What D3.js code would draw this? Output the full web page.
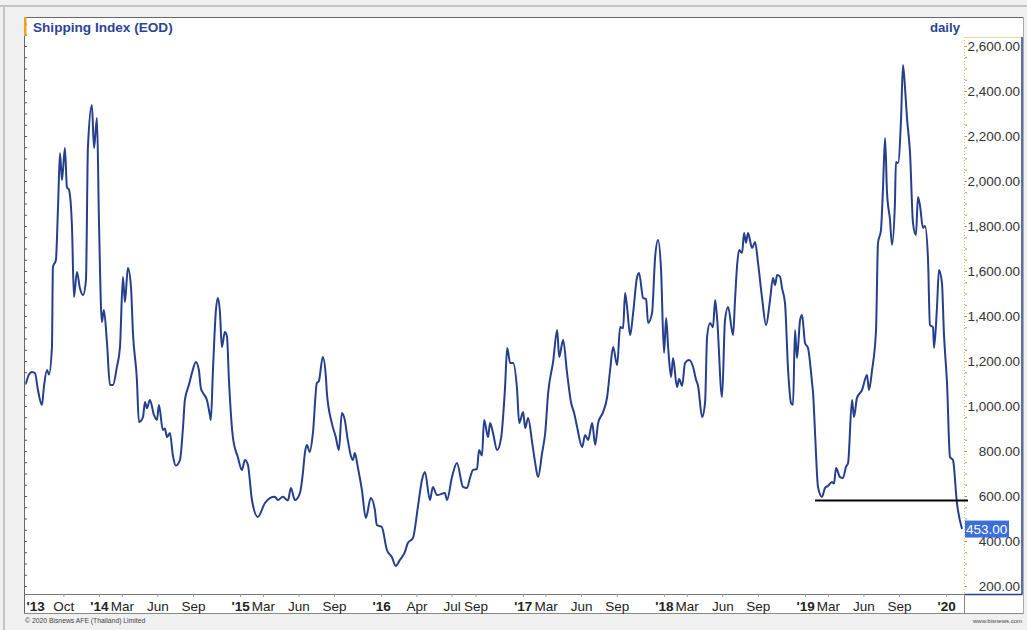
<!DOCTYPE html>
<html>
<head>
<meta charset="utf-8">
<script src="https://cdn.jsdelivr.net/npm/d3@7/dist/d3.min.js"></script>
<style>
body { margin: 0; background: #f0f0f0; }
svg { display: block; font-family: "Liberation Sans", Arial, sans-serif; }
</style>
</head>
<body>
<script>
// dates as decimal years
var years = [
  2013.483, 2013.504, 2013.525, 2013.547, 2013.568, 2013.596, 2013.610, 2013.632, 2013.646, 2013.667,
  2013.674, 2013.695, 2013.710, 2013.724, 2013.738, 2013.759, 2013.773, 2013.788, 2013.809, 2013.823,
  2013.844, 2013.865, 2013.887, 2013.908, 2013.922, 2013.950, 2013.965, 2013.986, 2014.000, 2014.021,
  2014.035, 2014.057, 2014.078, 2014.099, 2014.127, 2014.149, 2014.170, 2014.184, 2014.205, 2014.227,
  2014.241, 2014.269, 2014.283, 2014.312, 2014.326, 2014.340, 2014.361, 2014.390, 2014.411, 2014.425,
  2014.453, 2014.467, 2014.482, 2014.503, 2014.524, 2014.545, 2014.574, 2014.595, 2014.609, 2014.637,
  2014.659, 2014.687, 2014.708, 2014.722, 2014.737, 2014.765, 2014.786, 2014.793, 2014.807, 2014.829,
  2014.843, 2014.857, 2014.871, 2014.892, 2014.907, 2014.921, 2014.949, 2014.984, 2015.013, 2015.034,
  2015.055, 2015.084, 2015.126, 2015.176, 2015.211, 2015.246, 2015.268, 2015.303, 2015.339, 2015.360,
  2015.388, 2015.424, 2015.445, 2015.459, 2015.473, 2015.494, 2015.516, 2015.544, 2015.558, 2015.586,
  2015.608, 2015.615, 2015.650, 2015.678, 2015.700, 2015.721, 2015.742, 2015.763, 2015.799, 2015.813,
  2015.834, 2015.863, 2015.891, 2015.926, 2015.955, 2015.969, 2016.004, 2016.040, 2016.075, 2016.103,
  2016.132, 2016.167, 2016.188, 2016.224, 2016.259, 2016.288, 2016.309, 2016.344, 2016.365, 2016.394,
  2016.450, 2016.465, 2016.500, 2016.535, 2016.578, 2016.606, 2016.627, 2016.649, 2016.677, 2016.691,
  2016.712, 2016.727, 2016.755, 2016.769, 2016.790, 2016.819, 2016.847, 2016.875, 2016.890, 2016.911,
  2016.932, 2016.960, 2016.975, 2017.003, 2017.017, 2017.038, 2017.067, 2017.088, 2017.109, 2017.137,
  2017.159, 2017.180, 2017.215, 2017.244, 2017.258, 2017.286, 2017.314, 2017.343, 2017.364, 2017.385,
  2017.421, 2017.442, 2017.463, 2017.492, 2017.513, 2017.534, 2017.569, 2017.598, 2017.619, 2017.640,
  2017.669, 2017.690, 2017.711, 2017.725, 2017.739, 2017.761, 2017.782, 2017.810, 2017.824, 2017.853,
  2017.874, 2017.888, 2017.916, 2017.938, 2017.959, 2017.980, 2018.001, 2018.016, 2018.030, 2018.051,
  2018.065, 2018.093, 2018.108, 2018.129, 2018.150, 2018.178, 2018.207, 2018.228, 2018.242, 2018.271,
  2018.292, 2018.306, 2018.327, 2018.348, 2018.363, 2018.377, 2018.412, 2018.433, 2018.455, 2018.490,
  2018.504, 2018.518, 2018.533, 2018.554, 2018.568, 2018.582, 2018.596, 2018.625, 2018.646, 2018.667,
  2018.695, 2018.724, 2018.752, 2018.773, 2018.788, 2018.802, 2018.823, 2018.837, 2018.858, 2018.880,
  2018.901, 2018.915, 2018.929, 2018.943, 2018.965, 2018.979, 2019.000, 2019.021, 2019.050, 2019.057,
  2019.071, 2019.092, 2019.120, 2019.142, 2019.163, 2019.191, 2019.205, 2019.220, 2019.248, 2019.269,
  2019.290, 2019.305, 2019.333, 2019.347, 2019.368, 2019.404, 2019.439, 2019.453, 2019.475, 2019.503,
  2019.517, 2019.538, 2019.552, 2019.567, 2019.581, 2019.602, 2019.616, 2019.637, 2019.644, 2019.659,
  2019.680, 2019.694, 2019.708, 2019.722, 2019.744, 2019.765, 2019.786, 2019.800, 2019.814, 2019.836,
  2019.850, 2019.871, 2019.885, 2019.907, 2019.914, 2019.935, 2019.949, 2019.970, 2019.984, 2020.006,
  2020.027, 2020.048, 2020.076, 2020.112
];
var values = [
  1100, 1140, 1151, 1145, 1071, 1004, 1084, 1160, 1140, 1262,
  1618, 1649, 1884, 2124, 2004, 2147, 1973, 1960, 1796, 1484,
  1596, 1524, 1493, 1560, 2151, 2338, 2147, 2280, 1827, 1373,
  1427, 1280, 1093, 1093, 1173, 1262, 1573, 1462, 1613, 1529,
  1324, 1116, 929, 951, 1018, 990, 1027, 960, 938, 1004,
  893, 900, 862, 880, 780, 735, 760, 900, 1027, 1093,
  1147, 1196, 1160, 1080, 1058, 1027, 960, 938, 1147, 1427,
  1480, 1420, 1262, 1329, 1310, 1116, 862, 773, 716, 760,
  740, 582, 507, 569, 591, 597, 582, 597, 580, 636,
  582, 613, 702, 791, 827, 796, 880, 1102, 1110, 1218,
  1129, 1058, 924, 862, 804, 969, 938, 849, 760, 791,
  729, 627, 502, 591, 538, 471, 462, 360, 329, 289,
  316, 351, 391, 413, 551, 671, 707, 582, 640, 604,
  613, 582, 684, 747, 640, 635, 680, 716, 720, 804,
  780, 938, 862, 924, 880, 804, 858, 1084, 1258, 1191,
  1191, 1071, 924, 973, 902, 947, 836, 747, 684, 791,
  880, 1058, 1196, 1338, 1218, 1293, 1147, 1013, 969, 907,
  818, 871, 849, 924, 827, 924, 973, 1040, 1160, 1262,
  1182, 1351, 1345, 1502, 1440, 1315, 1413, 1573, 1591, 1480,
  1475, 1369, 1413, 1662, 1738, 1604, 1236, 1391, 1262, 1129,
  1213, 1084, 1120, 1090, 1191, 1204, 1173, 1116, 1090, 951,
  1018, 1307, 1369, 1350, 1471, 1390, 1040, 1382, 1440, 1315,
  1471, 1618, 1693, 1680, 1769, 1725, 1769, 1702, 1729, 1636,
  1484, 1360, 1471, 1569, 1538, 1582, 1575, 1524, 1458, 1160,
  1013, 1005, 1338, 1213, 1382, 1404, 1280, 1258, 1102, 1058,
  880, 640, 596, 636, 645, 662, 655, 724, 684, 680,
  729, 747, 1027, 951, 1036, 1071, 1138, 1071, 1160, 1338,
  1724, 1782, 1960, 2191, 1947, 1827, 1716, 1902, 2084, 2080,
  2271, 2516, 2418, 2284, 2124, 1813, 1760, 1929, 1893, 1791,
  1800, 1658, 1360, 1350, 1258, 1440, 1604, 1547, 1324, 1102,
  773, 760, 569, 453
];

var yTicks = [200, 400, 600, 800, 1000, 1200, 1400, 1600, 1800, 2000, 2200, 2400, 2600];
var xTicks = ["2013-06-21", "2013-10-01", "2014-01-01", "2014-03-01", "2014-06-01", "2014-09-01",
  "2015-01-01", "2015-03-01", "2015-06-01", "2015-09-01",
  "2016-01-01", "2016-04-01", "2016-07-01", "2016-09-01",
  "2017-01-01", "2017-03-01", "2017-06-01", "2017-09-01",
  "2018-01-01", "2018-03-01", "2018-06-01", "2018-09-01",
  "2019-01-01", "2019-03-01", "2019-06-01", "2019-09-01", "2020-01-01"];
var xLabels = ["'13", "Oct", "'14", "Mar", "Jun", "Sep",
  "'15", "Mar", "Jun", "Sep",
  "'16", "Apr", "Jul", "Sep",
  "'17", "Mar", "Jun", "Sep",
  "'18", "Mar", "Jun", "Sep",
  "'19", "Mar", "Jun", "Sep", "'20"];

var supportLevel = 580;
var supportFrom = 2019.071;
var lastValue = 453;
var domainYears = [2013.469, 2020.126];

function fracToDate(f) {
  var yr = Math.floor(f);
  var s = new Date(yr, 0, 1), e = new Date(yr + 1, 0, 1);
  return new Date(+s + (f - yr) * (e - s));
}

var width = 1027, height = 630;
var plotL = 24, plotR = 964, plotT = 17, plotB = 594;

var svg = d3.select("body").append("svg")
    .attr("width", width)
    .attr("height", height);

svg.append("rect").attr("width", width).attr("height", height).attr("fill", "#f0f0f0");
// outer frame lines
svg.append("line").attr("x1", 0).attr("x2", width).attr("y1", 6).attr("y2", 6)
    .attr("stroke", "#c4c4c4").attr("stroke-width", 2);
svg.append("line").attr("x1", 4).attr("x2", 4).attr("y1", 6).attr("y2", height)
    .attr("stroke", "#c4c4c4").attr("stroke-width", 2);

// white panel
svg.append("rect").attr("x", plotL).attr("y", plotT).attr("width", 999).attr("height", 597)
    .attr("fill", "#fff");
svg.append("line").attr("x1", plotL).attr("x2", 1023).attr("y1", plotT + 0.5).attr("y2", plotT + 0.5)
    .attr("stroke", "#666");
svg.append("line").attr("x1", plotL + 0.5).attr("x2", plotL + 0.5).attr("y1", plotT).attr("y2", 614)
    .attr("stroke", "#666");
svg.append("line").attr("x1", 1023.5).attr("x2", 1023.5).attr("y1", plotT).attr("y2", 614)
    .attr("stroke", "#aaa");

var x = d3.scaleTime()
    .domain(domainYears.map(fracToDate))
    .range([plotL, plotR]);

var y = d3.scaleLinear()
    .domain([164.4, 2728.9])
    .range([plotB, plotT]);

// y axis box
svg.append("line").attr("x1", plotR).attr("x2", 1022).attr("y1", 37.5).attr("y2", 37.5)
    .attr("stroke", "#ecd9a0");
svg.append("line").attr("x1", plotR + 0.5).attr("x2", plotR + 0.5).attr("y1", 37).attr("y2", plotB)
    .attr("stroke", "#e2c466").attr("stroke-dasharray", "1,2");
svg.append("line").attr("x1", 1022).attr("x2", 1022).attr("y1", 37).attr("y2", plotB)
    .attr("stroke", "#24408f").attr("stroke-width", 1.5);
svg.append("line").attr("x1", plotR).attr("x2", 1022.5).attr("y1", plotB + 0.5).attr("y2", plotB + 0.5)
    .attr("stroke", "#24408f").attr("stroke-width", 1.5);

// minor ticks on both sides
var minor = d3.range(200, 2701, 50);
svg.append("g").attr("transform", "translate(" + (plotL + 1) + ",0)")
    .call(d3.axisRight(y).tickValues(minor).tickSize(2).tickFormat(""))
    .call(function(g) { g.select(".domain").remove(); g.selectAll("line").attr("stroke", "#555"); });
svg.append("g").attr("transform", "translate(" + (plotR + 1) + ",0)")
    .call(d3.axisRight(y).tickValues(minor.filter(function(v) { return y(v) > 38; })).tickSize(2).tickFormat(""))
    .call(function(g) { g.select(".domain").remove(); g.selectAll("line").attr("stroke", "#999"); });

// y labels
svg.append("g").attr("transform", "translate(1020,0)")
    .call(d3.axisLeft(y).tickValues(yTicks).tickSize(0).tickPadding(0).tickFormat(d3.format(",.2f")))
    .call(function(g) {
      g.select(".domain").remove();
      g.selectAll("text").attr("fill", "#333").style("font-size", "13.5px")
        .style("font-family", "'Liberation Sans', Arial, sans-serif");
    });

// x band
svg.append("line").attr("x1", plotL).attr("x2", plotR).attr("y1", plotB + 0.5).attr("y2", plotB + 0.5)
    .attr("stroke", "#777");
svg.append("line").attr("x1", plotL).attr("x2", 1023).attr("y1", 613.5).attr("y2", 613.5)
    .attr("stroke", "#888");
svg.append("line").attr("x1", plotR + 0.5).attr("x2", plotR + 0.5).attr("y1", plotB).attr("y2", 614)
    .attr("stroke", "#888");

var parse = d3.timeParse("%Y-%m-%d");
svg.append("g").attr("transform", "translate(0," + plotB + ")")
    .call(d3.axisBottom(x).tickValues(xTicks.map(parse)).tickSize(3).tickPadding(4)
      .tickFormat(function(d, i) { return xLabels[i]; }))
    .call(function(g) {
      g.select(".domain").remove();
      g.selectAll("line").attr("stroke", "#999");
      g.selectAll("text").attr("fill", "#222").style("font-size", "13.5px")
        .style("font-family", "'Liberation Sans', Arial, sans-serif")
        .style("font-weight", function(d, i) { return xLabels[i].charAt(0) == "'" ? "bold" : "normal"; });
      g.selectAll(".tick").filter(function(d, i) { return i == 0; })
        .call(function(t) { t.select("line").remove(); t.select("text").attr("text-anchor", "start").attr("x", 2); });
    });

// the series
var data = years.map(function(t, i) { return { date: fracToDate(t), value: values[i] }; });

svg.append("clipPath").attr("id", "plot")
  .append("rect").attr("x", plotL).attr("y", plotT).attr("width", plotR - plotL).attr("height", plotB - plotT);

var line = d3.line()
    .curve(d3.curveMonotoneX)
    .x(function(d) { return x(d.date); })
    .y(function(d) { return y(d.value); });

svg.append("path")
    .datum(data)
    .attr("clip-path", "url(#plot)")
    .attr("d", line)
    .attr("fill", "none")
    .attr("stroke", "#263f8c")
    .attr("stroke-width", 2)
    .attr("stroke-linejoin", "round");

// support line
svg.append("line")
    .attr("x1", x(fracToDate(supportFrom))).attr("x2", plotR + 4)
    .attr("y1", y(supportLevel)).attr("y2", y(supportLevel))
    .attr("stroke", "#000").attr("stroke-width", 2);

// last value tag
svg.append("rect")
    .attr("x", plotR + 1).attr("y", y(lastValue) - 8.5)
    .attr("width", 44).attr("height", 17)
    .attr("fill", "#3a6fdc");
svg.append("text")
    .attr("x", plotR + 2).attr("y", y(lastValue) + 5)
    .attr("fill", "#fff").style("font-size", "13.5px")
    .text(d3.format(",.2f")(lastValue));

// title
svg.append("rect").attr("x", plotL).attr("y", plotT).attr("width", 2.5).attr("height", 19).attr("fill", "#f5a11c");
svg.append("text").attr("x", 33).attr("y", 32)
    .attr("fill", "#2c4592").style("font-size", "13.6px").style("font-weight", "bold")
    .text("Shipping Index (EOD)");
svg.append("text").attr("x", 960).attr("y", 32).attr("text-anchor", "end")
    .attr("fill", "#2c4592").style("font-size", "13.2px").style("font-weight", "bold")
    .text("daily");

// footer
svg.append("text").attr("x", 25).attr("y", 623)
    .attr("fill", "#444").style("font-size", "6.8px")
    .text("\u00a9 2020 Bisnews AFE (Thailand) Limited");
svg.append("text").attr("x", 1022).attr("y", 623).attr("text-anchor", "end")
    .attr("fill", "#444").style("font-size", "6px")
    .text("www.bisnews.com");
</script>
</body>
</html>
